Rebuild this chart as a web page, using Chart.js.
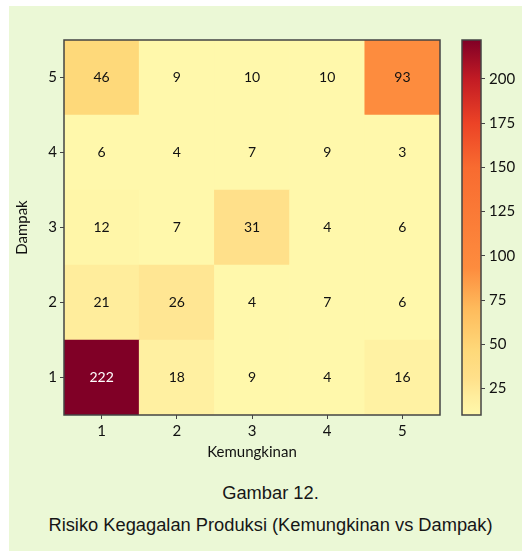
<!DOCTYPE html>
<html><head><meta charset="utf-8">
<script src="https://cdn.jsdelivr.net/npm/chart.js@4.4.0/dist/chart.umd.min.js"></script>
<style>
html,body{margin:0;padding:0;background:#fff;width:522px;height:551px;overflow:hidden;}
#bg{position:absolute;left:9px;top:6px;width:513px;height:545px;background:#ebf8d6;}
#main{position:absolute;left:0;top:0;width:522px;height:470px;}
#cb{position:absolute;left:440px;top:0;width:82px;height:470px;}
.cap{position:absolute;left:14px;width:513px;text-align:center;font-family:"Liberation Sans",Arial,sans-serif;font-size:18.3px;color:#161616;line-height:22px;white-space:nowrap;}
</style></head><body>
<div id="bg"></div>
<canvas id="main" width="522" height="470"></canvas>
<canvas id="cb" width="82" height="470"></canvas>
<div class="cap" style="top:482px">Gambar 12.</div>
<div class="cap" style="top:514px">Risiko Kegagalan Produksi (Kemungkinan vs Dampak)</div>
<script>
// ---- data ----
const kemungkinan = ['1', '2', '3', '4', '5'];
const dampakLevels = [1, 2, 3, 4, 5];
const dampak1 = [222, 18, 9, 4, 16];
const dampak2 = [21, 26, 4, 7, 6];
const dampak3 = [12, 7, 31, 4, 6];
const dampak4 = [6, 4, 7, 9, 3];
const dampak5 = [46, 9, 10, 10, 93];
const dampakTicks = [1, 2, 3, 4, 5];
const colorbarTicks = [25, 50, 75, 100, 125, 150, 175, 200];
const colorMin = 10;
const colorMax = 222;

const rows = [dampak1, dampak2, dampak3, dampak4, dampak5];

// ---- style: YlOrRd-like colour ramp (position in 0..1 of the colour range, colour) ----
const FONT = 'Lato, "Open Sans", sans-serif';
const TXT = '#111111';
const EDGE = '#444444';
const rampPos = [0, 0.047, 0.099, 0.17, 0.283, 0.392, 0.66, 0.778, 0.896, 1];
const rampCol = ['#fff8ab','#ffee9e','#ffe08a','#fed97a','#febb5c','#fd8c3e','#f86b30','#ec4326','#c21b24','#800026'];

function hexToRgb(h){const n=parseInt(h.slice(1),16);return [(n>>16)&255,(n>>8)&255,n&255];}
function colorFor(v){
  let t=(v-colorMin)/(colorMax-colorMin); t=Math.max(0,Math.min(1,t));
  let i=0; while(i<rampPos.length-2 && t>rampPos[i+1]) i++;
  const f=(t-rampPos[i])/(rampPos[i+1]-rampPos[i]);
  const a=hexToRgb(rampCol[i]), b=hexToRgb(rampCol[i+1]);
  const c=a.map((x,k)=>Math.round(x+(b[k]-x)*f));
  return 'rgb('+c.join(',')+')';
}
function isDark(v){return (v-colorMin)/(colorMax-colorMin)>0.6;}

const frame = {
  id:'frame',
  afterDatasetsDraw(chart){
    const {ctx, chartArea:a}=chart;
    ctx.save(); ctx.strokeStyle=EDGE; ctx.lineWidth=1.5;
    ctx.strokeRect(a.left, a.top, a.right-a.left, a.bottom-a.top);
    ctx.restore();
  }
};
const cellLabels = {
  id:'cellLabels',
  afterDatasetsDraw(chart){
    const ctx=chart.ctx; ctx.save();
    ctx.font='14px '+FONT; ctx.textAlign='center'; ctx.textBaseline='middle';
    chart.data.datasets.forEach((ds,i)=>{
      chart.getDatasetMeta(i).data.forEach((bar,j)=>{
        const v=rows[i][j]; const p=bar.getCenterPoint();
        ctx.fillStyle=isDark(v)?'#ffffff':TXT;
        ctx.fillText(String(v), p.x, p.y);
      });
    });
    ctx.restore();
  }
};

new Chart(document.getElementById('main'), {
  type:'bar',
  data:{
    labels:kemungkinan,
    datasets:dampakLevels.map((d,i)=>({
      label:'Dampak '+d,
      data:rows[i].map(()=>[d-0.5, d+0.5]),
      backgroundColor:rows[i].map(colorFor),
      borderWidth:0, barPercentage:1, categoryPercentage:1, grouped:false
    }))
  },
  options:{
    responsive:false, animation:false,
    layout:{padding:{left:0, right:82, top:40, bottom:0}},
    plugins:{legend:{display:false}, tooltip:{enabled:false}},
    scales:{
      x:{
        grid:{display:true, drawOnChartArea:false, offset:false, tickLength:4, color:EDGE},
        border:{display:false},
        ticks:{color:TXT, font:{family:FONT, size:15}, padding:3},
        title:{display:true, text:'Kemungkinan', color:TXT, font:{family:FONT, size:15}, padding:{top:0,bottom:9}},
        afterFit(s){s.height=55;}
      },
      y:{
        min:0.5, max:5.5,
        afterBuildTicks(s){s.ticks=dampakTicks.map(v=>({value:v}));},
        grid:{display:true, drawOnChartArea:false, tickLength:4, color:EDGE},
        border:{display:false},
        ticks:{color:TXT, font:{family:FONT, size:15}, padding:3},
        title:{display:true, text:'Dampak', color:TXT, font:{family:FONT, size:15}, padding:{top:13,bottom:0}},
        afterFit(s){s.width=64;}
      }
    }
  },
  plugins:[cellLabels, frame]
});

new Chart(document.getElementById('cb'), {
  type:'bar',
  data:{
    labels:[''],
    datasets:[{
      data:[[colorMin, colorMax]],
      backgroundColor(ctx){
        const chart=ctx.chart; if(!chart.chartArea) return null;
        const ys=chart.scales.y;
        const g=chart.ctx.createLinearGradient(0, ys.getPixelForValue(colorMin), 0, ys.getPixelForValue(colorMax));
        rampPos.forEach((p,i)=>g.addColorStop(p, rampCol[i]));
        return g;
      },
      borderWidth:0, barPercentage:1, categoryPercentage:1
    }]
  },
  options:{
    responsive:false, animation:false,
    layout:{padding:{left:22, right:0, top:40, bottom:55}},
    plugins:{legend:{display:false}, tooltip:{enabled:false}},
    scales:{
      x:{display:false},
      y:{
        position:'right', min:colorMin, max:colorMax,
        afterBuildTicks(s){s.ticks=colorbarTicks.map(v=>({value:v}));},
        grid:{display:true, drawOnChartArea:false, tickLength:4, color:EDGE},
        border:{display:false},
        ticks:{color:TXT, font:{family:FONT, size:15}, padding:4},
        afterFit(s){s.width=41;}
      }
    }
  },
  plugins:[frame]
});
</script>
</body></html>
